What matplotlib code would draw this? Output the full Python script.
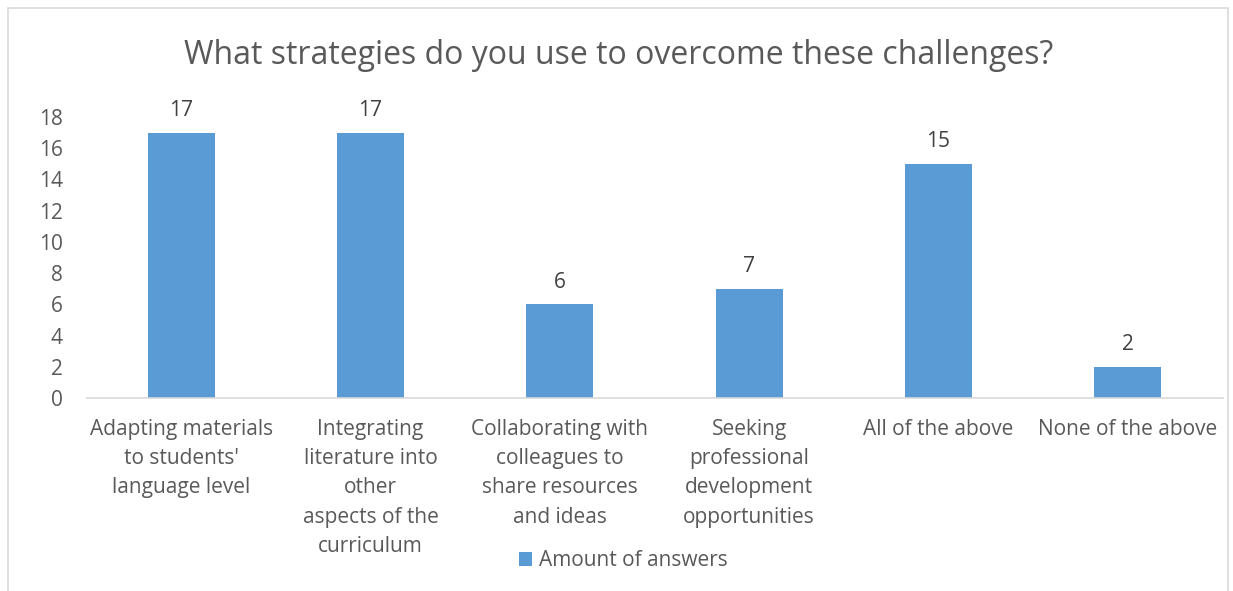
import matplotlib
matplotlib.use('Agg')
import matplotlib.pyplot as plt
from matplotlib.patches import Rectangle

categories = [
    "Adapting materials\nto students'\nlanguage level",
    "Integrating\nliterature into\nother\naspects of the\ncurriculum",
    "Collaborating with\ncolleagues to\nshare resources\nand ideas",
    "Seeking\nprofessional\ndevelopment\nopportunities",
    "All of the above",
    "None of the above",
]
answers = [17, 17, 6, 7, 15, 2]
yticks = [0, 2, 4, 6, 8, 10, 12, 14, 16, 18]

plt.rcParams['font.family'] = ['Open Sans', 'DejaVu Sans']
text_color = "#595959"
bar_color = "#5b9bd5"

W, H = 1233, 591
fig = plt.figure(figsize=(W / 100, H / 100), dpi=100)
ax = fig.add_axes([86.5 / W, 1 - 398 / H, (1222.5 - 86.5) / W, (398 - 117) / H])

# chart border (bottom edge is cropped off in the original)
fig.patches.append(Rectangle((8 / W, -0.05), (1228 - 8) / W, 1.05 - 8 / H,
                             transform=fig.transFigure, fill=False,
                             edgecolor="#d9d9d9", linewidth=1.2))

x = range(len(categories))
bars = ax.bar(x, answers, width=0.355, color=bar_color, zorder=2)
for xi, v in zip(x, answers):
    ax.text(xi, v + 0.75, str(v), ha="center", va="bottom",
            fontsize=15, color="#404040")

ax.set_xlim(-0.5, len(categories) - 0.5)
ax.set_ylim(0, 18)
ax.set_yticks(yticks)
ax.set_xticks(list(x))
ax.set_xticklabels(categories, fontsize=15, color=text_color, linespacing=1.52)
ax.tick_params(axis="y", labelsize=15, labelcolor=text_color, length=0, pad=17)
ax.tick_params(axis="x", length=0, pad=15)
for s in ["top", "right", "left"]:
    ax.spines[s].set_visible(False)
ax.spines["bottom"].set_color("#d9d9d9")
ax.spines["bottom"].set_linewidth(1.2)

fig.text(619 / W, 1 - 55 / H, "What strategies do you use to overcome these challenges?",
         ha="center", va="center", fontsize=23, color=text_color)

leg = fig.legend([bars], ["Amount of answers"], loc="center",
                 bbox_to_anchor=(623 / W, 1 - 561 / H), frameon=False,
                 fontsize=15, handlelength=0.65, handleheight=0.65,
                 handletextpad=0.3)
for t in leg.get_texts():
    t.set_color(text_color)

fig.savefig("out.png", dpi=100)
